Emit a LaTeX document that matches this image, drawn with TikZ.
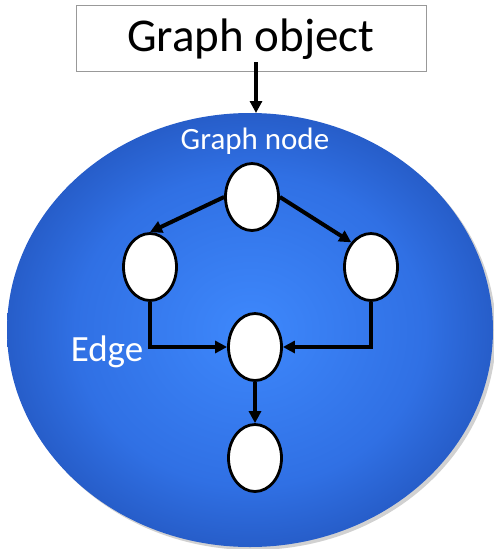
\documentclass[tikz,border=0pt]{standalone}
\usepackage{fontspec}
\setmainfont{Carlito}
\usetikzlibrary{arrows.meta,shapes.geometric}
\definecolor{ballcore}{RGB}{62,136,252}
\definecolor{ballmid}{RGB}{48,112,228}
\definecolor{balledge}{RGB}{32,80,182}
\pgfdeclareradialshading{blueball}{\pgfpoint{0bp}{0bp}}{%
  color(0bp)=(ballcore); color(18bp)=(ballmid); color(30bp)=(balledge); color(50bp)=(balledge)}
\tikzset{
  gnode/.style={ellipse, draw=black, line width=2.8pt, fill=white,
    minimum width=53pt, minimum height=67pt, inner sep=0pt},
  edge/.style={line width=4pt, -{Triangle[length=12pt,width=12pt]}},
  objbox/.style={draw=black!40, line width=0.8pt, fill=white,
    minimum width=350pt, minimum height=66pt, inner sep=0pt},
  wlabel/.style={text=white, inner sep=0pt}
}
\begin{document}
\begin{tikzpicture}[x=1pt,y=-1pt]
  \useasboundingbox (0,0) rectangle (494,549);
  % soft shadow and shaded container
  \fill[black, opacity=0.18] (253,333) ellipse [x radius=243, y radius=217];
  \shade[shading=blueball] (250,330) ellipse [x radius=243, y radius=217];
  \coordinate (ballTop) at (256,113);

  % graph object box
  \node[objbox] (obj) at (251,38) {};
  \node[inner sep=0pt, font=\fontsize{47}{50}\selectfont] (objtxt) at (251,39) {Graph object};
  \coordinate (objFoot) at (256,62);
  \draw[edge] (objFoot) -- (ballTop);

  % labels
  \node[wlabel, font=\fontsize{31}{33}\selectfont] (lblnode) at (255,141) {Graph node};
  \node[wlabel, font=\fontsize{37}{39}\selectfont] (lbledge) at (107,352) {Edge};

  % graph nodes
  \node[gnode] (top) at (252,197) {};
  \node[gnode] (left) at (150,267) {};
  \node[gnode] (right) at (371,267) {};
  \node[gnode] (mid) at (255,347) {};
  \node[gnode] (bot) at (255,458) {};

  % edges
  \draw[edge] (top.west) -- (left.north);
  \draw[edge] (top.east) -- (right.north west);
  \draw[edge] (left.south) |- (mid.west);
  \draw[edge] (right.south) |- (mid.east);
  \draw[edge] (mid.south) -- (bot.north);
\end{tikzpicture}
\end{document}
